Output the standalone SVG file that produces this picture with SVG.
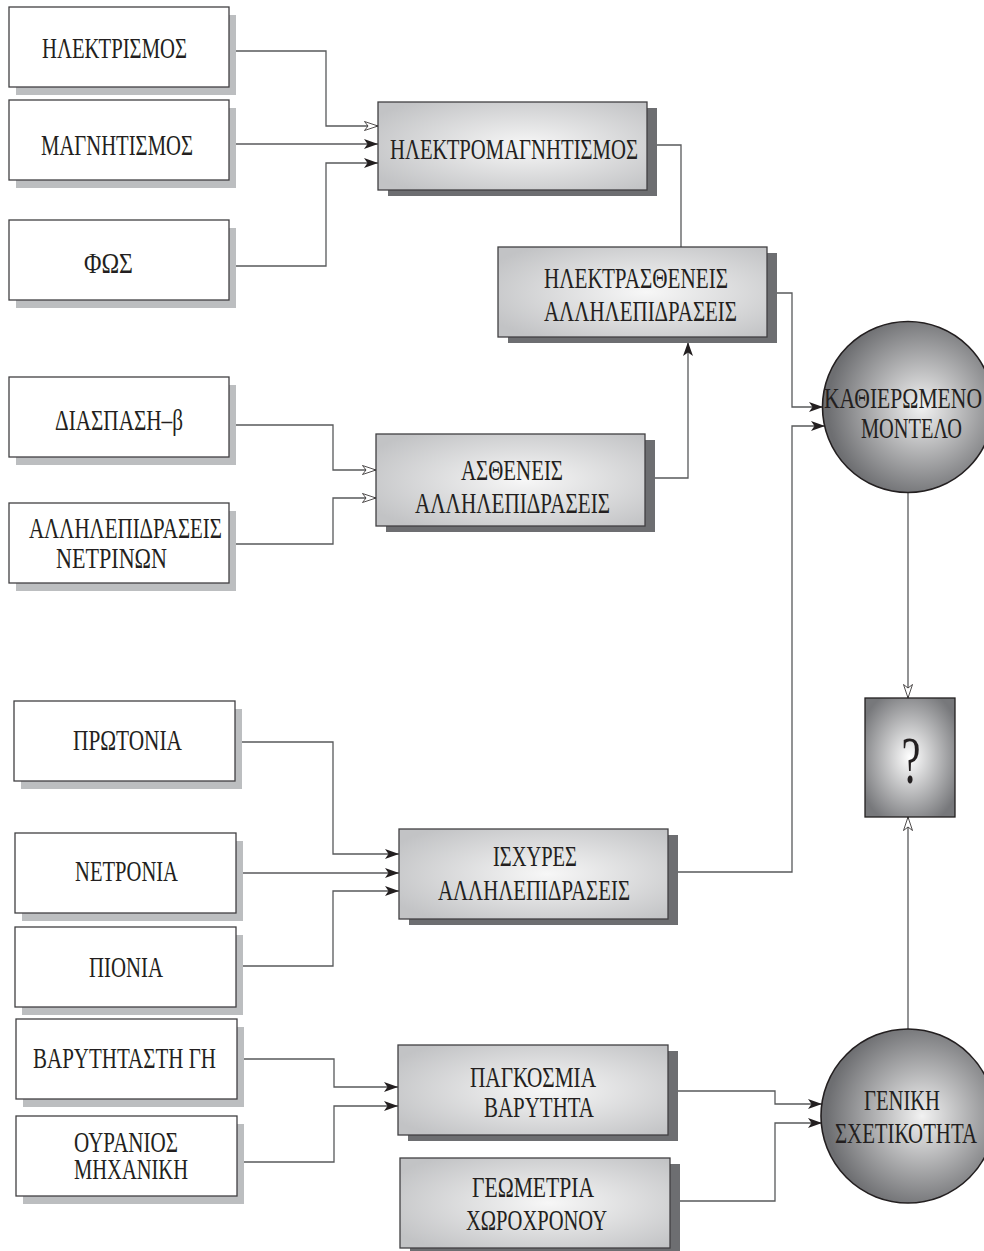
<svg xmlns="http://www.w3.org/2000/svg" width="984" height="1251" viewBox="0 0 984 1251">
<style>
.t{font-family:"Liberation Serif","Times New Roman",serif;font-size:29px;fill:#231f20;text-anchor:middle}
.box{fill:#fff;stroke:#414042;stroke-width:1.3}
.sh{fill:#bcbec0}
.dsh{fill:#6d6e71}
.gbox{fill:url(#gb);stroke:#414042;stroke-width:1.3}
.circ{fill:url(#gc);stroke:#231f20;stroke-width:1.6}
.ln{fill:none;stroke:#58595b;stroke-width:1.3}
</style>
<defs>
<radialGradient id="gb" cx="0.55" cy="0.5" r="0.65">
<stop offset="0" stop-color="#f7f7f7"/>
<stop offset="1" stop-color="#c2c3c5"/>
</radialGradient>
<radialGradient id="gc" cx="0.58" cy="0.5" r="0.55">
<stop offset="0" stop-color="#f2f2f2"/>
<stop offset="1" stop-color="#6d6e71"/>
</radialGradient>
<radialGradient id="gq" cx="0.5" cy="0.5" r="0.6">
<stop offset="0" stop-color="#ffffff"/>
<stop offset="1" stop-color="#77787b"/>
</radialGradient>
<marker id="af" markerUnits="userSpaceOnUse" markerWidth="15" markerHeight="11" refX="14" refY="5" orient="auto">
<path d="M0,0 L14,5 L0,10 L3.5,5 Z" fill="#231f20"/>
</marker>
<marker id="ao" markerUnits="userSpaceOnUse" markerWidth="15" markerHeight="11" refX="14" refY="5" orient="auto">
<path d="M0.5,0.5 L14,5 L0.5,9.5 L4,5 Z" fill="#fff" stroke="#231f20" stroke-width="0.8"/>
</marker>
</defs>

<g id="connectors">
<path class="ln" d="M236,51 H326 V126 H378" marker-end="url(#ao)"/>
<path class="ln" d="M236,144 H378" marker-end="url(#af)"/>
<path class="ln" d="M236,266 H326 V163 H378" marker-end="url(#af)"/>
<path class="ln" d="M657,145 H681 V247"/>
<path class="ln" d="M777,293 H792 V407 H823" marker-end="url(#af)"/>
<path class="ln" d="M236,425 H333 V470 H376" marker-end="url(#ao)"/>
<path class="ln" d="M236,544 H333 V498 H376" marker-end="url(#ao)"/>
<path class="ln" d="M655,478 H688 V342" marker-end="url(#af)"/>
<path class="ln" d="M678,872 H792 V426 H825" marker-end="url(#af)"/>
<path class="ln" d="M908,493 V698" marker-end="url(#ao)"/>
<path class="ln" d="M908,1029 V817" marker-end="url(#ao)"/>
<path class="ln" d="M241,742 H333 V854 H399" marker-end="url(#af)"/>
<path class="ln" d="M242,873 H399" marker-end="url(#af)"/>
<path class="ln" d="M242,966 H333 V891 H399" marker-end="url(#af)"/>
<path class="ln" d="M243,1059 H334 V1087 H398" marker-end="url(#af)"/>
<path class="ln" d="M243,1162 H334 V1106 H398" marker-end="url(#af)"/>
<path class="ln" d="M678,1091 H775 V1104 H822" marker-end="url(#af)"/>
<path class="ln" d="M680,1201 H775 V1123 H822" marker-end="url(#af)"/>
</g>

<g id="n-ilektrismos">
<rect class="sh" x="16" y="15" width="220" height="80"/>
<rect class="box" x="9" y="7" width="220" height="80"/>
<text class="t" x="114.5" y="58" textLength="145" lengthAdjust="spacingAndGlyphs">ΗΛΕΚΤΡΙΣΜΟΣ</text>
</g>
<g id="n-magnitismos">
<rect class="sh" x="16" y="108" width="220" height="80"/>
<rect class="box" x="9" y="100" width="220" height="80"/>
<text class="t" x="117" y="155" textLength="152" lengthAdjust="spacingAndGlyphs">ΜΑΓΝΗΤΙΣΜΟΣ</text>
</g>
<g id="n-fos">
<rect class="sh" x="16" y="228" width="220" height="80"/>
<rect class="box" x="9" y="220" width="220" height="80"/>
<text class="t" x="108.5" y="273" textLength="49" lengthAdjust="spacingAndGlyphs">ΦΩΣ</text>
</g>
<g id="n-em">
<rect class="dsh" x="388" y="108" width="269" height="88"/>
<rect class="gbox" x="378" y="102" width="269" height="88"/>
<text class="t" x="514" y="159" textLength="248" lengthAdjust="spacingAndGlyphs">ΗΛΕΚΤΡΟΜΑΓΝΗΤΙΣΜΟΣ</text>
</g>
<g id="n-ilektrastheneis">
<rect class="dsh" x="508" y="253" width="269" height="90"/>
<rect class="gbox" x="498" y="247" width="269" height="90"/>
<text class="t" x="636" y="288" textLength="184" lengthAdjust="spacingAndGlyphs">ΗΛΕΚΤΡΑΣΘΕΝΕΙΣ</text>
<text class="t" x="640.5" y="321" textLength="193" lengthAdjust="spacingAndGlyphs">ΑΛΛΗΛΕΠΙΔΡΑΣΕΙΣ</text>
</g>
<g id="n-kathieromeno">
<circle class="circ" cx="908" cy="407" r="85.5"/>
<text class="t" x="903" y="408" textLength="158" lengthAdjust="spacingAndGlyphs">ΚΑΘΙΕΡΩΜΕΝΟ</text>
<text class="t" x="911.5" y="438" textLength="101" lengthAdjust="spacingAndGlyphs">ΜΟΝΤΕΛΟ</text>
</g>
<g id="n-diaspasi">
<rect class="sh" x="16" y="385" width="220" height="80"/>
<rect class="box" x="9" y="377" width="220" height="80"/>
<text class="t" x="119" y="430" textLength="128" lengthAdjust="spacingAndGlyphs">ΔΙΑΣΠΑΣΗ–β</text>
</g>
<g id="n-netrinon">
<rect class="sh" x="16" y="511" width="220" height="80"/>
<rect class="box" x="9" y="503" width="220" height="80"/>
<text class="t" x="125.5" y="538" textLength="193" lengthAdjust="spacingAndGlyphs">ΑΛΛΗΛΕΠΙΔΡΑΣΕΙΣ</text>
<text class="t" x="111.5" y="568" textLength="111" lengthAdjust="spacingAndGlyphs">ΝΕΤΡΙΝΩΝ</text>
</g>
<g id="n-astheneis">
<rect class="dsh" x="386" y="440" width="269" height="92"/>
<rect class="gbox" x="376" y="434" width="269" height="92"/>
<text class="t" x="512" y="480" textLength="102" lengthAdjust="spacingAndGlyphs">ΑΣΘΕΝΕΙΣ</text>
<text class="t" x="512.5" y="513" textLength="195" lengthAdjust="spacingAndGlyphs">ΑΛΛΗΛΕΠΙΔΡΑΣΕΙΣ</text>
</g>
<g id="n-question">
<rect x="865" y="698" width="90" height="119" fill="url(#gq)" stroke="#231f20" stroke-width="1.3"/>
<text class="t" x="911" y="783" style="font-size:68px" textLength="19" lengthAdjust="spacingAndGlyphs">?</text>
</g>
<g id="n-protonia">
<rect class="sh" x="21" y="709" width="221" height="80"/>
<rect class="box" x="14" y="701" width="221" height="80"/>
<text class="t" x="127.5" y="750" textLength="109" lengthAdjust="spacingAndGlyphs">ΠΡΩΤΟΝΙΑ</text>
</g>
<g id="n-netronia">
<rect class="sh" x="22" y="841" width="221" height="80"/>
<rect class="box" x="15" y="833" width="221" height="80"/>
<text class="t" x="126.5" y="881" textLength="103" lengthAdjust="spacingAndGlyphs">ΝΕΤΡΟΝΙΑ</text>
</g>
<g id="n-pionia">
<rect class="sh" x="22" y="935" width="221" height="80"/>
<rect class="box" x="15" y="927" width="221" height="80"/>
<text class="t" x="126" y="977" textLength="74" lengthAdjust="spacingAndGlyphs">ΠΙΟΝΙΑ</text>
</g>
<g id="n-ischyres">
<rect class="dsh" x="409" y="835" width="269" height="90"/>
<rect class="gbox" x="399" y="829" width="269" height="90"/>
<text class="t" x="535" y="866" textLength="84" lengthAdjust="spacingAndGlyphs">ΙΣΧΥΡΕΣ</text>
<text class="t" x="534" y="900" textLength="192" lengthAdjust="spacingAndGlyphs">ΑΛΛΗΛΕΠΙΔΡΑΣΕΙΣ</text>
</g>
<g id="n-varytitasti">
<rect class="sh" x="23" y="1027" width="221" height="80"/>
<rect class="box" x="16" y="1019" width="221" height="80"/>
<text class="t" x="124.5" y="1068" textLength="183" lengthAdjust="spacingAndGlyphs">ΒΑΡΥΤΗΤΑΣΤΗ ΓΗ</text>
</g>
<g id="n-ouranios">
<rect class="sh" x="23" y="1124" width="221" height="80"/>
<rect class="box" x="16" y="1116" width="221" height="80"/>
<text class="t" x="126" y="1152" textLength="104" lengthAdjust="spacingAndGlyphs">ΟΥΡΑΝΙΟΣ</text>
<text class="t" x="131" y="1179" textLength="114" lengthAdjust="spacingAndGlyphs">ΜΗΧΑΝΙΚΗ</text>
</g>
<g id="n-pagkosmia">
<rect class="dsh" x="408" y="1051" width="270" height="90"/>
<rect class="gbox" x="398" y="1045" width="270" height="90"/>
<text class="t" x="533" y="1087" textLength="126" lengthAdjust="spacingAndGlyphs">ΠΑΓΚΟΣΜΙΑ</text>
<text class="t" x="539" y="1117" textLength="110" lengthAdjust="spacingAndGlyphs">ΒΑΡΥΤΗΤΑ</text>
</g>
<g id="n-geometria">
<rect class="dsh" x="410" y="1164" width="270" height="90"/>
<rect class="gbox" x="400" y="1158" width="270" height="90"/>
<text class="t" x="533" y="1197" textLength="122" lengthAdjust="spacingAndGlyphs">ΓΕΩΜΕΤΡΙΑ</text>
<text class="t" x="536.5" y="1230" textLength="141" lengthAdjust="spacingAndGlyphs">ΧΩΡΟΧΡΟΝΟΥ</text>
</g>
<g id="n-geniki">
<circle class="circ" cx="908" cy="1116" r="87"/>
<text class="t" x="902" y="1110" textLength="76" lengthAdjust="spacingAndGlyphs">ΓΕΝΙΚΗ</text>
<text class="t" x="906" y="1143" textLength="142" lengthAdjust="spacingAndGlyphs">ΣΧΕΤΙΚΟΤΗΤΑ</text>
</g>
</svg>
